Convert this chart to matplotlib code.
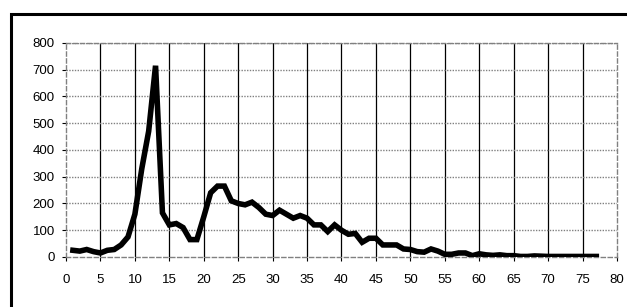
import matplotlib
matplotlib.use("Agg")
import matplotlib.pyplot as plt
from matplotlib.patches import Rectangle

plt.rcParams['font.family'] = ['Liberation Sans', 'DejaVu Sans']

days = list(range(1, 78))
counts = [25, 22, 28, 20, 15, 25, 28, 45, 75, 160,
          330, 470, 715, 165, 120, 125, 110, 65, 65, 150,
          240, 265, 265, 210, 200, 195, 205, 185, 160, 155,
          175, 160, 145, 155, 145, 120, 120, 95, 120, 100,
          85, 88, 55, 70, 70, 45, 45, 45, 30, 28,
          20, 18, 30, 22, 10, 10, 15, 15, 5, 12,
          8, 6, 8, 5, 5, 2, 2, 4, 3, 2,
          2, 2, 2, 2, 2, 2, 2]

fig = plt.figure(figsize=(6.27, 3.07), dpi=100)
ax = fig.add_axes([0.1053, 0.1629, 0.8787, 0.6971])

# outer frame (left and top visible)
fig.patches.append(Rectangle((11 / 627, -0.1), 1.2, 0.954 + 0.1, transform=fig.transFigure,
                             fill=False, edgecolor="black", linewidth=2.2))

ax.plot(days, counts, color="black", linewidth=4, solid_joinstyle="miter", zorder=3)

ax.set_xlim(0, 80)
ax.set_ylim(0, 800)
ax.set_xticks(range(0, 81, 5))
ax.set_yticks(range(0, 801, 100))

for x in range(5, 80, 5):
    ax.axvline(x, color="black", linewidth=0.9, zorder=1)
for y in range(100, 801, 100):
    ax.axhline(y, color="#808080", linewidth=1.0, linestyle=(0, (1, 1)), zorder=1)

for side in ax.spines.values():
    side.set_color("#808080")
    side.set_linestyle((0, (3, 2)))
    side.set_linewidth(1.0)

ax.tick_params(axis="both", direction="out", length=3, width=0.8, color="black",
               labelsize=9.5)
ax.tick_params(axis="y", pad=5)
ax.tick_params(axis="x", pad=9)

fig.savefig("out.png", dpi=100)
